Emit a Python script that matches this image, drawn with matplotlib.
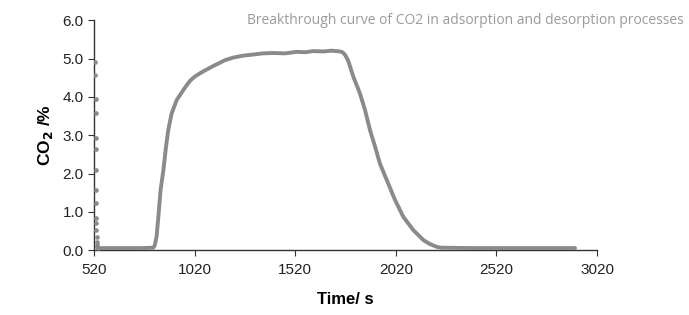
import numpy as np
import matplotlib
matplotlib.use("Agg")
import matplotlib.pyplot as plt

plt.rcParams['font.family'] = ['Liberation Sans', 'DejaVu Sans']

# initial transient points near t=520
t_start = [527, 527, 528, 528, 529, 529, 530, 530, 531, 531, 532, 532, 533, 534, 535, 537, 540]
c_start = [4.92, 4.57, 3.96, 3.57, 2.92, 2.65, 2.09, 1.57, 1.22, 0.84, 0.70, 0.52, 0.35, 0.22, 0.13, 0.08, 0.05]

# main breakthrough curve
t_curve = [540, 650, 750, 815, 822, 831, 840, 851, 865, 878, 889, 906, 931, 964, 981, 997,
           1020, 1047, 1070, 1088, 1113, 1140, 1170, 1212, 1260, 1312, 1360, 1411, 1470, 1527, 1570, 1610,
           1660, 1700, 1743, 1755, 1768, 1784, 1809, 1842, 1867, 1892, 1917, 1941, 1975, 2016,
           2057, 2107, 2157, 2185, 2206, 2225, 2245, 2400, 2600, 2800, 2911]
c_curve = [0.05, 0.05, 0.05, 0.06, 0.12, 0.35, 0.87, 1.57, 2.09, 2.70, 3.13, 3.57, 3.92, 4.18, 4.31, 4.42,
           4.53, 4.62, 4.69, 4.74, 4.81, 4.88, 4.96, 5.03, 5.08, 5.11, 5.14, 5.15, 5.14, 5.18, 5.17, 5.20,
           5.19, 5.21, 5.19, 5.17, 5.10, 4.94, 4.53, 4.09, 3.66, 3.13, 2.70, 2.26, 1.83, 1.31,
           0.87, 0.52, 0.26, 0.17, 0.12, 0.08, 0.06, 0.05, 0.05, 0.05, 0.05]

x_ticks = [520, 1020, 1520, 2020, 2520, 3020]
y_ticks = [0, 1, 2, 3, 4, 5, 6]

fig = plt.figure(figsize=(6.89, 3.15), dpi=100)
ax = fig.add_axes([0.1364, 0.2063, 0.7301, 0.7287])

ax.plot(t_curve, c_curve, color='#8a8a8a', lw=2.8, solid_joinstyle='round', solid_capstyle='round', zorder=3)
ax.plot(t_start, c_start, 'o', color='#8a8a8a', ms=2.3, zorder=3)

ax.set_xlim(520, 3020)
ax.set_ylim(0, 6)
ax.set_xticks(x_ticks)
ax.set_yticks(y_ticks)
ax.set_yticklabels(['%.1f' % v for v in y_ticks])
ax.spines['top'].set_visible(False)
ax.spines['right'].set_visible(False)
for s in ['left', 'bottom']:
    ax.spines[s].set_color('#333333')
    ax.spines[s].set_linewidth(1.0)
ax.tick_params(axis='both', direction='out', length=4, color='#333333', labelsize=11, labelcolor='#222222')
ax.tick_params(axis='x', pad=5)

ax.set_xlabel('Time/ s', fontsize=12, fontweight='bold', labelpad=11)
ax.set_ylabel('CO$_\\mathbf{2}$ /%', fontsize=12.5, fontweight='bold', labelpad=5)

fig.text(0.992, 0.935, 'Breakthrough curve of CO2 in adsorption and desorption processes',
         ha='right', va='center', fontsize=10, color='#9a9a9a', family=['Open Sans', 'DejaVu Sans'])

fig.savefig('out.png', dpi=100)
